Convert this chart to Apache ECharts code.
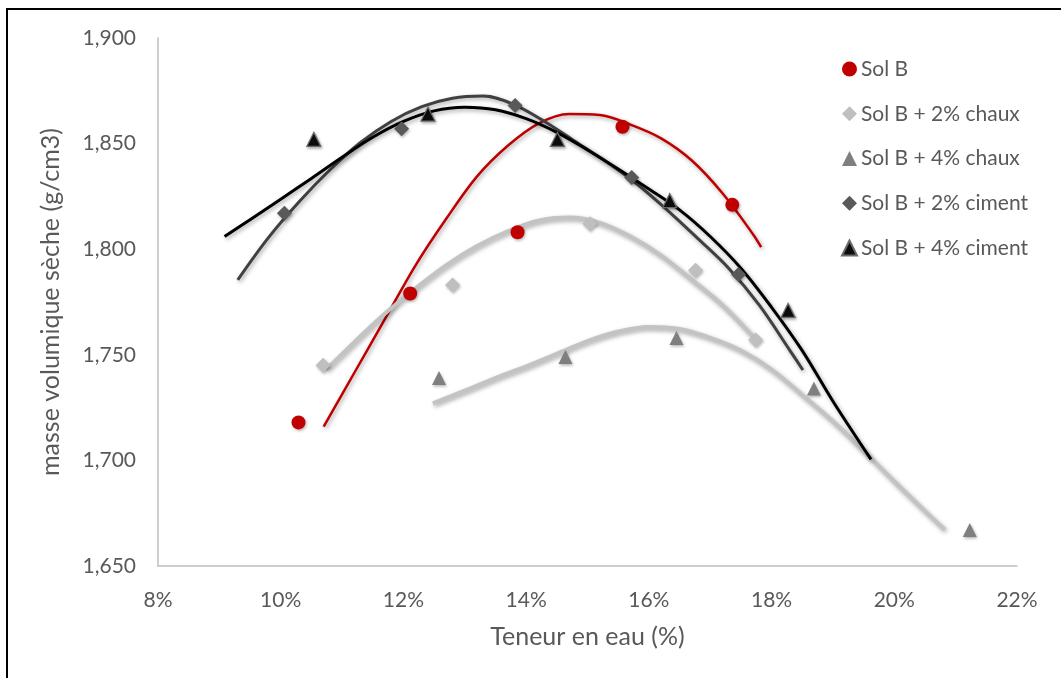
<!DOCTYPE html>
<html>
<head>
<meta charset="utf-8">
<script src="https://cdn.jsdelivr.net/npm/echarts@6/dist/echarts.min.js"></script>
<style>
html,body{margin:0;padding:0;background:#fff;}
#chart{width:1061px;height:678px;}
</style>
</head>
<body>
<div id="chart"></div>
<script>
// Measured points (teneur en eau %, masse volumique g/cm3)
const seriesNames = ['Sol B', 'Sol B + 2% chaux', 'Sol B + 4% chaux', 'Sol B + 2% ciment', 'Sol B + 4% ciment'];

const solB_x = [10.29, 12.11, 13.86, 15.57, 17.36];
const solB_y = [1.718, 1.779, 1.808, 1.858, 1.821];
const chaux2_x = [10.69, 12.80, 15.04, 16.76, 17.74];
const chaux2_y = [1.745, 1.783, 1.812, 1.790, 1.757];
const chaux4_x = [12.58, 14.64, 16.45, 18.69, 21.23];
const chaux4_y = [1.739, 1.749, 1.758, 1.734, 1.667];
const ciment2_x = [10.06, 11.97, 13.82, 15.72, 17.46];
const ciment2_y = [1.817, 1.857, 1.868, 1.834, 1.788];
const ciment4_x = [10.54, 12.40, 14.51, 16.34, 18.27];
const ciment4_y = [1.852, 1.864, 1.852, 1.823, 1.771];

// Trend curves
const trendSolB_x = [10.70, 11.2, 11.7, 12.2, 12.7, 13.2, 13.7, 14.2, 14.7, 15.2, 15.7, 16.2, 16.7, 17.2, 17.7, 17.83];
const trendSolB_y = [1.716, 1.7415, 1.767, 1.7925, 1.8145, 1.8345, 1.849, 1.8595, 1.864, 1.8635, 1.859, 1.8525, 1.842, 1.8265, 1.807, 1.801];
const trendChaux2_x = [10.74, 11.2, 11.7, 12.2, 12.7, 13.2, 13.7, 14.2, 14.7, 15.2, 15.7, 16.2, 16.7, 17.2, 17.70];
const trendChaux2_y = [1.743, 1.756, 1.7695, 1.7815, 1.7925, 1.8015, 1.8085, 1.8135, 1.815, 1.8125, 1.806, 1.797, 1.7855, 1.7735, 1.7586];
const trendChaux4_x = [12.48, 13.0, 13.5, 14.0, 14.5, 15.0, 15.5, 16.0, 16.5, 17.0, 17.5, 18.0, 18.5, 19.0, 19.5, 20.0, 20.5, 20.82];
const trendChaux4_y = [1.727, 1.733, 1.739, 1.7445, 1.7505, 1.7565, 1.761, 1.7632, 1.7622, 1.758, 1.752, 1.743, 1.731, 1.7185, 1.7045, 1.690, 1.676, 1.6673];
const trendCiment2_x = [9.30, 9.8, 10.3, 10.8, 11.3, 11.8, 12.3, 12.8, 13.3, 13.8, 14.3, 14.8, 15.3, 15.8, 16.3, 16.8, 17.3, 17.8, 18.3, 18.51];
const trendCiment2_y = [1.7855, 1.8055, 1.8225, 1.8375, 1.8505, 1.8605, 1.8675, 1.8715, 1.8725, 1.8685, 1.8605, 1.851, 1.8415, 1.831, 1.8185, 1.805, 1.791, 1.7735, 1.752, 1.7428];
const trendCiment4_x = [9.085, 9.5, 10.0, 10.5, 11.0, 11.5, 12.0, 12.5, 13.0, 13.5, 14.0, 14.5, 15.0, 15.5, 16.0, 16.5, 17.0, 17.5, 18.0, 18.5, 19.0, 19.62];
const trendCiment4_y = [1.806, 1.814, 1.8237, 1.8335, 1.8435, 1.853, 1.8605, 1.8655, 1.8672, 1.866, 1.8618, 1.8553, 1.847, 1.838, 1.8285, 1.8186, 1.806, 1.791, 1.7725, 1.752, 1.728, 1.7005];

const xAxisTitle = 'Teneur en eau (%)';
const yAxisTitle = 'masse volumique sèche (g/cm3)';

function pairs(xs, ys) { return xs.map((x, i) => [x, ys[i]]); }

const FONT = 'Lato';
const TXT = '#595959';
const lineShadow = { shadowColor: 'rgba(0,0,0,0.35)', shadowBlur: 4, shadowOffsetX: 1.5, shadowOffsetY: 2 };
const markShadow = { shadowColor: 'rgba(0,0,0,0.3)', shadowBlur: 3, shadowOffsetX: 1, shadowOffsetY: 1.5 };

function trend(name, xs, ys, color, width) {
  return {
    type: 'line', name: name + ' trend', data: pairs(xs, ys), smooth: 0.35,
    showSymbol: false, symbol: 'none', silent: true, z: 2,
    lineStyle: Object.assign({ color: color, width: width, cap: 'butt', join: 'round' }, lineShadow)
  };
}
function pts(name, xs, ys, symbol, color, size, extra) {
  return {
    type: 'scatter', name: name, data: pairs(xs, ys), symbol: symbol, symbolSize: size, z: 3,
    itemStyle: Object.assign({ color: color, opacity: 1 }, markShadow, extra || {})
  };
}

const chart = echarts.init(document.getElementById('chart'), null, { renderer: 'canvas' });
chart.setOption({
  animation: false,
  backgroundColor: '#fff',
  textStyle: { fontFamily: FONT },
  graphic: [{
    type: 'rect', shape: { x: 7, y: 9, width: 1120, height: 720 },
    style: { fill: 'none', stroke: '#000', lineWidth: 2 }, z: 100
  }],
  grid: { left: 158, right: 44, top: 38, bottom: 112, containLabel: false },
  legend: {
    orient: 'vertical', left: 841, top: 58, padding: 0, itemGap: 22.75, itemWidth: 15, itemHeight: 15,
    data: seriesNames,
    textStyle: { fontFamily: FONT, fontSize: 21, color: TXT, lineHeight: 22, padding: [0, 0, 0, -1] }
  },
  xAxis: {
    type: 'value', min: 8, max: 22, interval: 2,
    name: xAxisTitle, nameLocation: 'middle', nameGap: 58,
    nameTextStyle: { fontFamily: FONT, fontSize: 25, color: TXT },
    axisLine: { show: true, lineStyle: { color: '#bfbfbf', width: 1.5 } },
    axisTick: { show: false }, splitLine: { show: false },
    axisLabel: { margin: 24, fontFamily: FONT, fontSize: 21, color: TXT, formatter: v => Math.round(v) + '%' }
  },
  yAxis: {
    type: 'value', min: 1.65, max: 1.9, interval: 0.05,
    name: yAxisTitle, nameLocation: 'middle', nameGap: 95, nameRotate: 90,
    nameTextStyle: { fontFamily: FONT, fontSize: 25, color: TXT },
    axisLine: { show: true, lineStyle: { color: '#bfbfbf', width: 1.5 } },
    axisTick: { show: false }, splitLine: { show: false },
    axisLabel: { margin: 22, fontFamily: FONT, fontSize: 21, color: TXT, formatter: v => v.toFixed(3).replace('.', ',') }
  },
  series: [
    trend('Sol B', trendSolB_x, trendSolB_y, '#c00000', 2.5),
    trend('Sol B + 2% chaux', trendChaux2_x, trendChaux2_y, '#c3c3c3', 4),
    trend('Sol B + 4% chaux', trendChaux4_x, trendChaux4_y, '#c3c3c3', 4),
    trend('Sol B + 2% ciment', trendCiment2_x, trendCiment2_y, '#404040', 3),
    trend('Sol B + 4% ciment', trendCiment4_x, trendCiment4_y, '#000000', 3),
    pts('Sol B', solB_x, solB_y, 'circle', '#c00000', 14),
    pts('Sol B + 2% chaux', chaux2_x, chaux2_y, 'diamond', '#bfbfbf', 15),
    pts('Sol B + 4% chaux', chaux4_x, chaux4_y, 'triangle', '#7f7f7f', 14),
    pts('Sol B + 2% ciment', ciment2_x, ciment2_y, 'diamond', '#595959', 15),
    pts('Sol B + 4% ciment', ciment4_x, ciment4_y, 'triangle', '#0d0d0d', 14, { borderColor: '#6a6a6a', borderWidth: 1.2 })
  ]
});
</script>
</body>
</html>
